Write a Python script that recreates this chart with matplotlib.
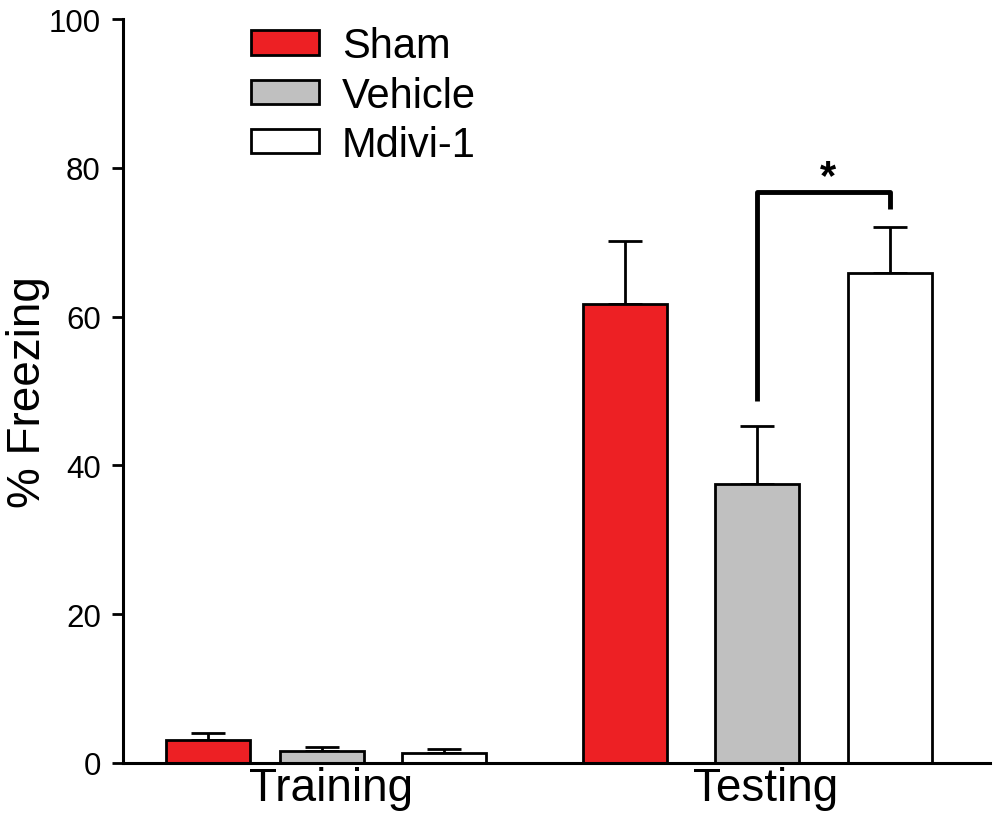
import numpy as np
import matplotlib.pyplot as plt
from matplotlib.patches import Patch

plt.rcParams['font.family'] = ['Liberation Sans', 'DejaVu Sans']

groups = ['Training', 'Testing']
series = ['Sham', 'Vehicle', 'Mdivi-1']
colors = ['#ED2024', '#C0C0C0', '#FFFFFF']

means = {
    'Sham': [3.1, 61.7],
    'Vehicle': [1.6, 37.5],
    'Mdivi-1': [1.4, 65.8],
}
sems = {
    'Sham': [0.9, 8.5],
    'Vehicle': [0.5, 7.8],
    'Mdivi-1': [0.5, 6.2],
}

# bar centres (axis units, roughly pixels from the y axis)
centres = [[85, 199, 321], [502, 634, 767]]
width = 84

fig = plt.figure(figsize=(10.04, 8.2), dpi=100)
ax = fig.add_axes([123 / 1004, 1 - 764 / 820, (990 - 123) / 1004, (764 - 20) / 820])

for i, s in enumerate(series):
    xs = [centres[g][i] for g in range(len(groups))]
    ax.bar(xs, means[s], width=width, color=colors[i], edgecolor='black',
           linewidth=2, zorder=2)
    ax.errorbar(xs, means[s], yerr=[np.zeros(2), sems[s]], fmt='none',
                ecolor='black', elinewidth=2, capsize=12, capthick=2, zorder=1)

# significance bracket
bx0, bx1 = centres[1][1], centres[1][2]
ax.plot([bx0, bx0, bx1, bx1], [48.7, 76.8, 76.8, 74.4], color='black',
        linewidth=3.5, solid_capstyle='butt', clip_on=False)
ax.text((bx0 + bx1) / 2 + 5, 78.8, '*', ha='center', va='center', fontsize=30,
        fontweight='bold')

ax.set_xlim(0, 867)
ax.set_ylim(0, 100)
ax.set_yticks([0, 20, 40, 60, 80, 100])
ax.set_xticks([c[1] + 9 for c in centres])
ax.set_xticklabels(groups)
ax.tick_params(axis='y', labelsize=22.5, width=2, length=8, direction='out', pad=8)
ax.tick_params(axis='x', labelsize=33, length=0, pad=2)
ax.set_ylabel('% Freezing', fontsize=33)
ax.yaxis.set_label_coords(-0.084, 0.50)

ax.spines['top'].set_visible(False)
ax.spines['right'].set_visible(False)
ax.spines['left'].set_linewidth(2.2)
ax.spines['bottom'].set_linewidth(2.2)

handles = [Patch(facecolor=c, edgecolor='black', linewidth=2) for c in colors]
ax.legend(handles, series, loc='upper left', bbox_to_anchor=(0.1476, 0.99),
          frameon=False, fontsize=30, handlelength=1.63, handleheight=0.53,
          labelspacing=0.22, handletextpad=0.55, borderpad=0, borderaxespad=0)

fig.savefig('out.png', dpi=100)
